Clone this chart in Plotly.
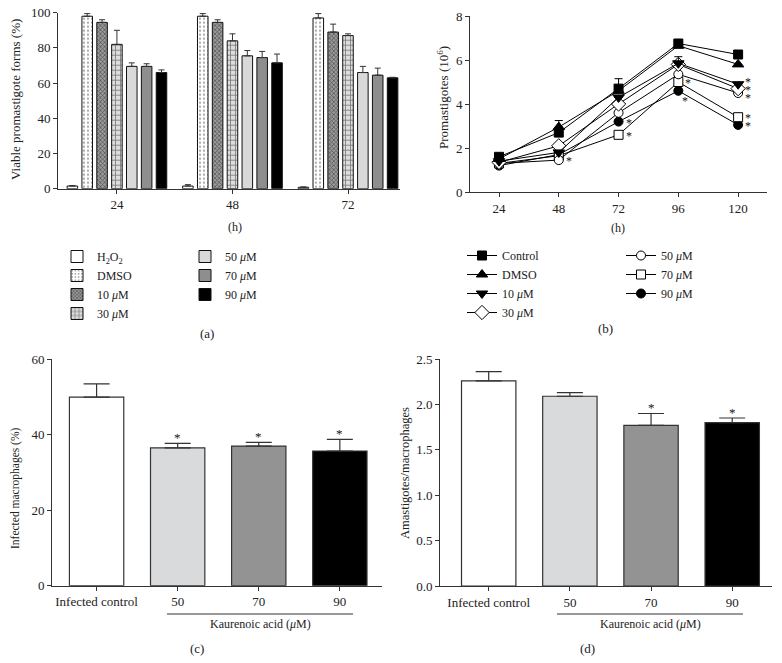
import plotly.graph_objects as go

W, H = 782, 663
def px(x): return x / W
def py(y): return 1 - y / H

FONT = "Liberation Serif"
INK = "#222222"

# ---------------- Panel (a) data ----------------
a_groups = ["24", "48", "72"]
a_names = ["H<sub>2</sub>O<sub>2</sub>", "DMSO", "10 <i>μ</i>M", "30 <i>μ</i>M",
           "50 <i>μ</i>M", "70 <i>μ</i>M", "90 <i>μ</i>M"]
a_h2o2 = [1.5, 1.5, 0.8]
a_dmso = [98, 98, 97]
a_10 = [94.5, 94.5, 89]
a_30 = [82, 84, 87]
a_50 = [69.5, 75.5, 66]
a_70 = [69.5, 74.5, 64.5]
a_90 = [66, 71.5, 63]
a_err_h2o2 = [0.3, 0.8, 0.2]
a_err_dmso = [1.5, 1.5, 2.5]
a_err_10 = [1.5, 1.5, 4.5]
a_err_30 = [8, 4, 1]
a_err_50 = [2, 3, 3.5]
a_err_70 = [1.5, 3.5, 4]
a_err_90 = [1.5, 5, 0.3]

# ---------------- Panel (b) data ----------------
b_hours = [24, 48, 72, 96, 120]
b_names = ["Control", "DMSO", "10 <i>μ</i>M", "30 <i>μ</i>M", "50 <i>μ</i>M", "70 <i>μ</i>M", "90 <i>μ</i>M"]
b_control = [1.6, 2.7, 4.7, 6.75, 6.25]
b_dmso = [1.5, 2.95, 4.6, 6.65, 5.8]
b_10 = [1.4, 1.8, 4.3, 5.85, 4.9]
b_30 = [1.35, 2.1, 4.0, 5.8, 4.7]
b_50 = [1.3, 1.45, 3.6, 5.35, 4.5]
b_70 = [1.3, 1.65, 2.6, 5.0, 3.4]
b_90 = [1.2, 1.7, 3.2, 4.6, 3.05]
b_err_control = [0, 0, 0.45, 0, 0]
b_err_dmso = [0, 0.3, 0, 0, 0]
b_err_10 = [0, 0, 0, 0.3, 0]
b_star_control = [0, 0, 0, 0, 0]
b_star_dmso = [0, 0, 0, 0, 0]
b_star_10 = [0, 0, 0, 0, 1]
b_star_30 = [0, 0, 0, 0, 1]
b_star_50 = [0, 1, 0, 0, 1]
b_star_70 = [0, 0, 1, 1, 1]
b_star_90 = [0, 0, 1, 1, 1]

# ---------------- Panel (c) / (d) data ----------------
cd_cats = ["Infected control", "50", "70", "90"]
c_vals = [50, 36.5, 37, 35.7]
c_err = [3.5, 1.2, 1.0, 3.1]
c_star = [0, 1, 1, 1]
d_vals = [2.26, 2.09, 1.77, 1.80]
d_err = [0.10, 0.04, 0.13, 0.05]
d_star = [0, 0, 1, 1]

fig = go.Figure()

# ---- (a) bars ----
a_series = [a_h2o2, a_dmso, a_10, a_30, a_50, a_70, a_90]
a_errs = [a_err_h2o2, a_err_dmso, a_err_10, a_err_30, a_err_50, a_err_70, a_err_90]
a_styles = [
    dict(color="white"),
    dict(color="white", pattern=dict(shape=".", fgcolor="#555555", bgcolor="white", size=4, solidity=0.25)),
    dict(color="#6a6a6a", pattern=dict(shape="x", fgcolor="#111111", bgcolor="#9a9a9a", size=3, solidity=0.45)),
    dict(color="#dddddd", pattern=dict(shape="+", fgcolor="#111111", bgcolor="#dddddd", size=5, solidity=0.3)),
    dict(color="#d9d9d9"),
    dict(color="#8e8e8e"),
    dict(color="#000000"),
]
for i, (vals, errs, st) in enumerate(zip(a_series, a_errs, a_styles)):
    marker = dict(line=dict(color="#111111", width=1), **st)
    fig.add_trace(go.Bar(
        x=a_groups, y=vals, name=a_names[i], marker=marker,
        error_y=dict(type="data", array=errs, arrayminus=[0] * len(errs), symmetric=False,
                     color="#333333", thickness=1, width=3),
        xaxis="x", yaxis="y",
        legend="legend" if i < 4 else "legend2",
    ))

# ---- (b) lines (drawn 90 first so Control sits on top) ----
b_series = [b_control, b_dmso, b_10, b_30, b_50, b_70, b_90]
b_errs = [b_err_control, b_err_dmso, b_err_10, None, None, None, None]
b_stars = [b_star_control, b_star_dmso, b_star_10, b_star_30, b_star_50, b_star_70, b_star_90]
b_markers = [
    dict(symbol="square", color="black", size=9),
    dict(symbol="triangle-up", color="black", size=10),
    dict(symbol="triangle-down", color="black", size=10),
    dict(symbol="diamond", color="white", size=11),
    dict(symbol="circle", color="white", size=9),
    dict(symbol="square", color="white", size=9),
    dict(symbol="circle", color="black", size=9),
]
for i in reversed(range(7)):
    tr = dict(
        x=b_hours, y=b_series[i], name=b_names[i], mode="lines+markers",
        line=dict(color="black", width=1),
        marker=dict(line=dict(color="black", width=1), **b_markers[i]),
        xaxis="x2", yaxis="y2",
        legend="legend3" if i < 4 else "legend4",
    )
    if b_errs[i] is not None:
        tr["error_y"] = dict(type="data", array=b_errs[i], arrayminus=[0] * 5, symmetric=False,
                             color="black", thickness=1, width=4)
    fig.add_trace(go.Scatter(**tr))

# ---- (c) and (d) bars ----
cd_colors = ["white", "#d9dadc", "#939393", "#000000"]
for vals, errs, xa, ya in [(c_vals, c_err, "x3", "y3"), (d_vals, d_err, "x4", "y4")]:
    fig.add_trace(go.Bar(
        x=cd_cats, y=vals, width=0.67, showlegend=False,
        marker=dict(color=cd_colors, line=dict(color="#333333", width=1.2)),
        error_y=dict(type="data", array=errs, arrayminus=[0] * 4, symmetric=False,
                     color="#333333", thickness=1.2, width=13),
        xaxis=xa, yaxis=ya,
    ))

STAR_FONT = dict(family=FONT, size=12, color="#111111")
ann = []
# stars (b)
b_star_yshift = {(2, 4): 2, (3, 4): -1, (4, 4): -5, (6, 3): -10}
for i in range(7):
    for j, flag in enumerate(b_stars[i]):
        if flag:
            ann.append(dict(x=b_hours[j], y=b_series[i][j], xref="x2", yref="y2", text="*",
                            showarrow=False, xshift=10 if (i, j) != (6, 3) else 7,
                            yshift=b_star_yshift.get((i, j), -1), font=STAR_FONT))
# stars (c),(d) -- category index positions
for vals, errs, stars, xr, yr in [(c_vals, c_err, c_star, "x3", "y3"), (d_vals, d_err, d_star, "x4", "y4")]:
    for k, flag in enumerate(stars):
        if flag:
            ann.append(dict(x=k, y=vals[k] + errs[k], xref=xr, yref=yr, text="*",
                            showarrow=False, yanchor="bottom", yshift=-4,
                            font=dict(family=FONT, size=13, color="#111111")))

def txt(x, y, s, size=12, angle=0):
    ann.append(dict(x=px(x), y=py(y), xref="paper", yref="paper", text=s, showarrow=False,
                    textangle=angle, xanchor="center", yanchor="middle",
                    font=dict(family=FONT, size=size, color=INK)))

txt(15, 100, "Viable promastigote forms (%)", 13, -90)
txt(235, 227, "(h)", 12)
txt(207, 333, "(a)", 13)
txt(443, 98, "Promastigotes (10<sup>6</sup>)", 13, -90)
txt(618, 228, "(h)", 12)
txt(605, 328, "(b)", 13)
txt(15, 489, "Infected macrophages (%)", 11.5, -90)
txt(260, 624, "Kaurenoic acid (<i>μ</i>M)", 12)
txt(197, 648, "(c)", 13)
txt(405, 473, "Amastigotes/macrophages", 12.5, -90)
txt(650, 624, "Kaurenoic acid (<i>μ</i>M)", 12)
txt(587, 648, "(d)", 13)

shapes = [
    dict(type="line", xref="paper", yref="paper", x0=px(167), x1=px(353), y0=py(614), y1=py(614),
         line=dict(color="#333333", width=1)),
    dict(type="line", xref="paper", yref="paper", x0=px(557), x1=px(743), y0=py(614), y1=py(614),
         line=dict(color="#333333", width=1)),
]

axis_common = dict(showline=True, linecolor="#333333", linewidth=1, showgrid=False, zeroline=False,
                   ticks="outside", tickcolor="#333333", ticklen=4, tickwidth=1,
                   tickfont=dict(family=FONT, size=13, color=INK))

leg_common = dict(bgcolor="rgba(0,0,0,0)", font=dict(family=FONT, size=12, color=INK),
                  xanchor="left", yanchor="top", tracegroupgap=0, itemclick=False)

fig.update_layout(
    width=W, height=H, margin=dict(l=0, r=0, t=0, b=0, autoexpand=False),
    paper_bgcolor="white", plot_bgcolor="white",
    barmode="group", bargap=0.1, bargroupgap=0.29,
    font=dict(family=FONT, color=INK),
    xaxis=dict(domain=[px(58), px(400)], anchor="y", type="category", range=[-0.51, 2.45], **axis_common),
    yaxis=dict(domain=[py(188.7), py(12.7)], anchor="x", range=[0, 100], dtick=20, **axis_common),
    xaxis2=dict(domain=[px(470), px(767)], anchor="y2", range=[12.35, 131.6], tickvals=b_hours, **axis_common),
    yaxis2=dict(domain=[py(192), py(16)], anchor="x2", range=[0, 8], dtick=2, **axis_common),
    xaxis3=dict(domain=[px(52), px(382)], anchor="y3", type="category", range=[-0.55, 3.52], **axis_common),
    yaxis3=dict(domain=[py(585.7), py(359.3)], anchor="x3", range=[0, 60], dtick=20, **axis_common),
    xaxis4=dict(domain=[px(440), px(772)], anchor="y4", type="category", range=[-0.6, 3.49], **axis_common),
    yaxis4=dict(domain=[py(586), py(359)], anchor="x4", range=[0, 2.5], dtick=0.5, tickformat=".1f", **axis_common),
    legend=dict(x=px(57), y=py(242), traceorder="normal", **leg_common),
    legend2=dict(x=px(185), y=py(242), traceorder="normal", **leg_common),
    legend3=dict(x=px(462), y=py(241), traceorder="reversed", **leg_common),
    legend4=dict(x=px(621), y=py(241), traceorder="reversed", **leg_common),
    annotations=ann, shapes=shapes,
)

fig.write_html("out.html", config={"displayModeBar": False},
               post_script="document.body.style.margin='0';document.body.style.overflow='hidden';")
